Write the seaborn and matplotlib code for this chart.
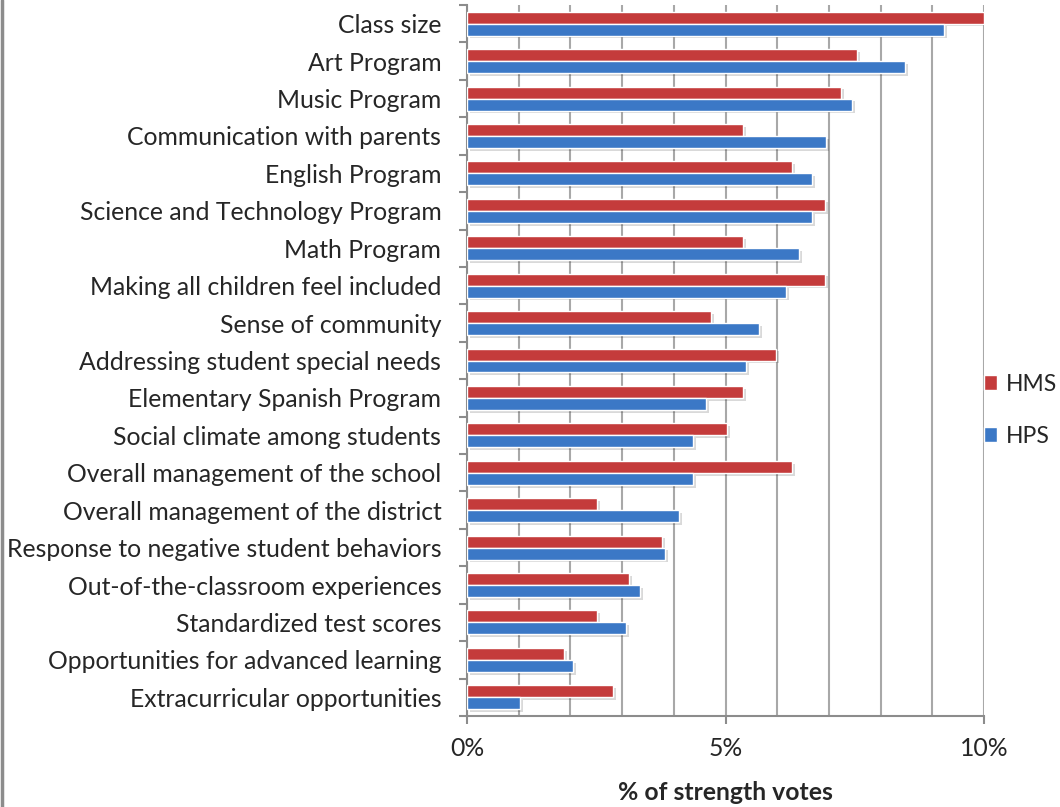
import matplotlib
matplotlib.use("Agg")
import matplotlib.pyplot as plt
import matplotlib.patheffects as pe
import seaborn as sns
import pandas as pd
import numpy as np
from matplotlib.ticker import FixedLocator, FuncFormatter

categories = [
    "Class size", "Art Program", "Music Program", "Communication with parents",
    "English Program", "Science and Technology Program", "Math Program",
    "Making all children feel included", "Sense of community",
    "Addressing student special needs", "Elementary Spanish Program",
    "Social climate among students", "Overall management of the school",
    "Overall management of the district", "Response to negative student behaviors",
    "Out-of-the-classroom experiences", "Standardized test scores",
    "Opportunities for advanced learning", "Extracurricular opportunities",
]
hms = [10.0, 7.54, 7.23, 5.34, 6.29, 6.92, 5.34, 6.92, 4.72, 5.98, 5.34, 5.03,
       6.29, 2.51, 3.77, 3.13, 2.51, 1.88, 2.82]
hps = [9.23, 8.47, 7.45, 6.94, 6.67, 6.67, 6.42, 6.17, 5.65, 5.40, 4.62, 4.37,
       4.37, 4.10, 3.83, 3.35, 3.08, 2.05, 1.03]
series = ["HMS", "HPS"]
colors = ["#C43B3B", "#3B78C6"]
xticks = [0, 5, 10]

df = pd.DataFrame({
    "category": categories * 2,
    "value": hms + hps,
    "series": [series[0]] * len(categories) + [series[1]] * len(categories),
})

sns.set_style("white")
plt.rcParams["font.family"] = ["Lato", "DejaVu Sans"]
FS = 17.8

fig = plt.figure(figsize=(10.6, 8.07), dpi=100)
ax = fig.add_axes([467 / 1060, 1 - 716 / 807, (984 - 467) / 1060, (716 - 5) / 807])

sns.barplot(data=df, y="category", x="value", hue="series", order=categories,
            hue_order=series, palette=colors, orient="h", width=0.64,
            saturation=1, ax=ax, zorder=3, legend=True)

for patch in ax.patches:
    patch.set_path_effects([pe.SimplePatchShadow(offset=(2, -2), alpha=0.15, shadow_rgbFace="black"),
                            pe.Normal()])

ax.set_xlim(0, 10)
ax.set_ylim(len(categories) - 0.5, -0.5)
ax.xaxis.set_major_locator(FixedLocator(xticks))
ax.xaxis.set_minor_locator(FixedLocator(list(range(0, 11))))
ax.xaxis.set_major_formatter(FuncFormatter(lambda v, p: f"{v:.0f}%"))
ax.grid(axis="x", which="both", color="#A8A8A8", linewidth=1.5, zorder=0)
ax.set_axisbelow(True)
ax.yaxis.set_minor_locator(FixedLocator(np.arange(-0.5, len(categories), 1.0)))
ax.tick_params(axis="y", which="major", left=True, length=0, labelsize=FS, pad=18.5)
ax.tick_params(axis="y", which="minor", left=True, length=6, width=1.5,
               color="#8C8C8C", direction="out")
ax.tick_params(axis="x", which="major", bottom=True, length=6, width=1.5,
               color="#8C8C8C", direction="out", labelsize=FS, pad=9)
ax.tick_params(axis="x", which="minor", bottom=False, length=0)
for s in ["top", "right"]:
    ax.spines[s].set_visible(False)
for s in ["left", "bottom"]:
    ax.spines[s].set_color("#8C8C8C")
    ax.spines[s].set_linewidth(1.5)
ax.set_ylabel("")
ax.set_xlabel("% of strength votes", fontsize=FS, fontweight="bold", labelpad=15)

handles, labels = ax.get_legend_handles_labels()
for h in handles:
    h.set_path_effects([])
ax.legend(handles, labels, loc="center left", bbox_to_anchor=(0.995, 0.43), frameon=False,
          fontsize=16.5, handlelength=0.6, handleheight=0.6, labelspacing=1.35,
          handletextpad=0.35, borderaxespad=0.0, borderpad=0.1)

fig.add_artist(plt.Line2D([0.002, 0.002], [0, 1], transform=fig.transFigure,
                          color="#8C8C8C", linewidth=2.5))

fig.savefig("out.png", dpi=100)
